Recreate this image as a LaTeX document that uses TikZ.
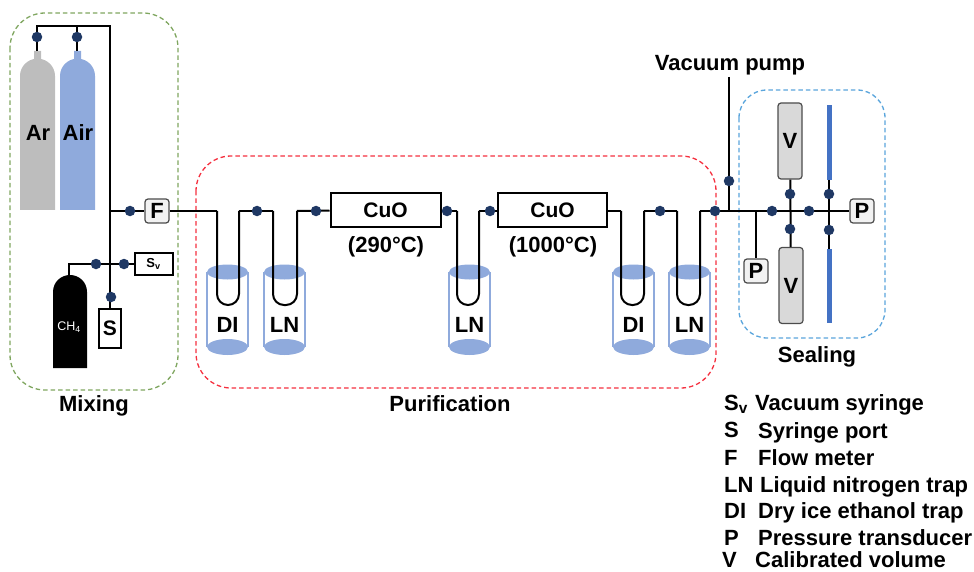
\documentclass[tikz,border=0pt]{standalone}
\usepackage{fontspec}
\setmainfont{Liberation Sans}
\definecolor{navyv}{HTML}{1F3864}
\definecolor{trapb}{HTML}{8FAADC}
\definecolor{tankg}{HTML}{BDBDBD}
\definecolor{boxg}{HTML}{D9D9D9}
\definecolor{rodb}{HTML}{4472C4}
\definecolor{mixc}{HTML}{7FA65F}
\definecolor{purc}{HTML}{F5303F}
\definecolor{seac}{HTML}{5AA5DC}
\tikzset{
  pipe/.style={line width=2pt, black},
  valve/.style={circle, fill=navyv, minimum size=10.5pt, inner sep=0},
  lab/.style={font=\fontsize{22}{24}\selectfont\bfseries, inner sep=0},
  heading/.style={lab, anchor=base},
  leg/.style={lab, anchor=base west},
  plainbox/.style={draw, line width=2pt, fill=white, inner sep=0, font=\fontsize{21}{24}\selectfont\bfseries},
  gauge/.style={draw=black!70, line width=1.2pt, fill=black!5, rounded corners=3pt, minimum size=24pt, inner sep=0, font=\fontsize{22}{24}\selectfont\bfseries},
  volume/.style={draw=black!70, line width=1.2pt, fill=boxg, rounded corners=3pt, minimum width=24pt, minimum height=76pt, inner sep=0, font=\fontsize{22}{24}\selectfont\bfseries},
  region/.style={line width=1.3pt, dash pattern=on 4.5pt off 3pt, rounded corners=35pt},
}
\begin{document}
\begin{tikzpicture}[x=1pt, y=-1pt]
  \useasboundingbox (0,0) rectangle (974,572);

  % Dashed regions
  \draw[region, mixc] (10,13) rectangle (178,390);
  \draw[region, purc] (196,156) rectangle (716,388);
  \draw[region, seac, rounded corners=28pt] (739,90) rectangle (885,338);

  % Gas cylinders
  \foreach \x/\c/\n in {20/tankg/ar, 60/trapb/air, 53/black/ch} {
    \ifnum\x=53
      \fill[\c] (\x,368) -- (\x,292) .. controls (\x,282) and (\x+8,275) .. (\x+17,275)
        .. controls (\x+26,275) and (\x+34,282) .. (\x+34,292) -- (\x+34,368) -- cycle;
    \else
      \fill[\c] (\x,210) -- (\x,76) .. controls (\x,66) and (\x+8,60) .. (\x+14,59)
        -- (\x+14,51) -- (\x+21,51) -- (\x+21,59) .. controls (\x+27,60) and (\x+35,66) .. (\x+35,76)
        -- (\x+35,210) -- cycle;
    \fi
  }

  % Traps
  \foreach \x/\t [count=\n] in {207/DI, 264/LN, 449/LN, 613/DI, 669/LN} {
    \draw[trapb, line width=2.5pt] (\x,272) -- (\x,347) (\x+41,272) -- (\x+41,347);
    \fill[trapb] (\x+20.5,272) ellipse (20.5pt and 7.5pt);
    \fill[trapb] (\x+20.5,347) ellipse (20.5pt and 8pt);
    \node[lab] (trap\n) at (\x+20.5,325) {\t};
  }

  % U tubes
  \foreach \xa/\xb [count=\n] in {217/239, 273/297, 457/479, 621/644, 677/700} {
    \coordinate (ua\n) at (\xa,211);
    \coordinate (ub\n) at (\xb,211);
    \draw[pipe, rounded corners=11pt] (ua\n) -- (\xa,305) -- (\xb,305) -- (ub\n);
  }

  % Boxes
  \node[gauge] (flow) at (157,211) {F};
  \node[plainbox, minimum width=110pt, minimum height=34pt] (cuoa) at (385.5,210) {CuO};
  \node[plainbox, minimum width=109pt, minimum height=34pt] (cuob) at (552.5,210) {CuO};
  \node[plainbox, minimum width=38pt, minimum height=22pt, font=\fontsize{13}{14}\selectfont\bfseries] (sv) at (153.5,264) {S\textsubscript{v}};
  \node[plainbox, minimum width=22pt, minimum height=39pt] (port) at (110,328) {S};
  \node[gauge] (pa) at (756,271) {P};
  \node[gauge] (pb) at (862,211) {P};
  \node[volume] (vola) at (790,141) {V};
  \node[volume] (volb) at (791,285.5) {V};

  % Sealing rods
  \fill[rodb] (826.5,105) rectangle (831.5,180);
  \fill[rodb] (826.5,249) rectangle (831.5,323);

  % Junctions
  \coordinate (ta) at (37,26);
  \coordinate (tb) at (77,26);
  \coordinate (tc) at (110,26);
  \coordinate (ja) at (110,211);
  \coordinate (jb) at (110,264);
  \coordinate (ca) at (37,51);
  \coordinate (cb) at (77,51);
  \coordinate (cc) at (69,264);
  \coordinate (cd) at (69,276);
  \coordinate (vp) at (729,77);
  \coordinate (jc) at (729,211);
  \coordinate (jd) at (756,211);
  \coordinate (ra) at (829,180);
  \coordinate (rb) at (829,249);

  % Pipes
  \draw[pipe] (ca) -- (ta) -- (tc) -- (jb) -- (port);
  \draw[pipe] (cb) -- (tb);
  \draw[pipe] (ja) -- (flow);
  \draw[pipe] (cd) -- (cc) -- (sv);
  \draw[pipe] (flow) -- (ua1);
  \draw[pipe] (ub1) -- (ua2);
  \draw[pipe] (ub2) -- (cuoa);
  \draw[pipe] (cuoa.east |- ua3) -- (ua3);
  \draw[pipe] (ub3) -- (cuob.west |- ub3);
  \draw[pipe] (cuob.east |- ua4) -- (ua4);
  \draw[pipe] (ub4) -- (ua5);
  \draw[pipe] (ub5) -- (pb);
  \draw[pipe] (vp) -- (jc);
  \draw[pipe] (jd) -- (pa);
  \draw[pipe] (vola) -- (volb);
  \draw[pipe] (ra) -- (rb);

  % Valves
  \foreach \x/\y [count=\n] in {
    37/37, 77/37, 130/211, 96/264, 124/264, 111/297,
    257/211, 316/211, 447/211, 490/211, 660/211, 715/211,
    729/181, 772/211, 809/211, 790/194, 790/229, 829/194, 829/230
  } {
    \node[valve] (v\n) at (\x,\y) {};
  }

  % Labels
  \node[lab] (lar) at (38,133) {Ar};
  \node[lab] (lair) at (78,133) {Air};
  \node[lab, font=\fontsize{12.5}{14}\selectfont, white] (lch) at (69,327) {CH\textsubscript{4}};
  \node[heading] (lta) at (386,252) {(290°C)};
  \node[heading] (ltb) at (553,252) {(1000°C)};
  \node[heading] (lvac) at (730,71) {Vacuum pump};
  \node[heading] (lmix) at (94,411) {Mixing};
  \node[heading] (lpur) at (450,411) {Purification};
  \node[heading] (lsea) at (817,362) {Sealing};

  % Key
  \foreach \a/\xa/\ya/\b/\xb/\yb [count=\n] in {
    {S\textsubscript{v}}/724/410/Vacuum syringe/755/410,
    S/724/437/Syringe port/758/438,
    F/724/465/Flow meter/758/465,
    LN/724/492/Liquid nitrogen trap/760/492,
    DI/724/518/Dry ice ethanol trap/758/518,
    P/724/545/Pressure transducer/758/545,
    V/722/567/Calibrated volume/755/567
  } {
    \node[leg] (ka\n) at (\xa,\ya) {\a};
    \node[leg] (kb\n) at (\xb,\yb) {\b};
  }
\end{tikzpicture}
\end{document}
